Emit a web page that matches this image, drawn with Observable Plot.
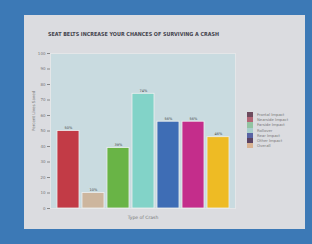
<!DOCTYPE html>
<html><head><meta charset="utf-8">
<script src="https://cdn.jsdelivr.net/npm/d3@7"></script>
<script src="https://cdn.jsdelivr.net/npm/@observablehq/plot@0.6"></script>
<style>
html,body{margin:0;padding:0;}
body{width:312px;height:244px;background:#3c79b6;position:relative;overflow:hidden;font-family:"DejaVu Sans",sans-serif;}
#panel{position:absolute;left:24px;top:15px;width:281px;height:214px;background:#dbdce0;}
#title{position:absolute;left:48px;top:31px;font:bold 5.4px "DejaVu Sans Condensed","DejaVu Sans",sans-serif;color:#45454f;white-space:nowrap;}
#chart{position:absolute;left:0;top:0;}
#legend{position:absolute;left:247px;top:112px;font:3.8px "DejaVu Sans",sans-serif;color:#777;}
#legend .row{display:flex;align-items:center;height:5.2px;}
#legend .sw{width:6px;height:5.2px;margin-right:4px;}
</style></head>
<body>
<div id="panel"></div>
<div id="title"></div>
<div id="chart"></div>
<div id="legend"></div>
<script>
const titleText = "SEAT BELTS INCREASE YOUR CHANCES OF SURVIVING A CRASH";
const categories = ["Frontal Impact","Nearside Impact","Farside Impact","Rollover","Rear Impact","Other Impact","Overall"];
const values = [50, 10, 39, 74, 56, 56, 46];
const barColors = ["#c23b46","#cdb69e","#69b446","#82d3c8","#3e6db5","#c42d8b","#eebb24"];
const legendColors = ["#6e4b5e","#b36575","#93c4a2","#a9cfcc","#5963a4","#5b4262","#d9b393"];
const yTicks = [0,10,20,30,40,50,60,70,80,90,100];
const yLabel = "Percent Lives Saved";
const xLabel = "Type of Crash";

document.getElementById("title").textContent = titleText;

const data = categories.map((c,i)=>({cat:c, value:values[i], color:barColors[i]}));

const chart = Plot.plot({
  width:312, height:244,
  marginLeft:50, marginRight:77, marginTop:53, marginBottom:36,
  style:{background:"transparent", fontFamily:"DejaVu Sans, sans-serif"},
  x:{domain:categories, padding:0.12, paddingOuter:0.2, axis:null},
  y:{domain:[0,100], ticks:yTicks, label:null},
  marks:[
    Plot.frame({fill:"#c9dbe0", stroke:"#e4e6e8"}),
    Plot.axisY({ticks:yTicks, tickSize:3, tickPadding:2, fontSize:4, color:"#777", tickFormat:d=>d, stroke:"#888"}),
    Plot.barY(data,{x:"cat", y:"value", fill:"color", stroke:"#eef0f0", strokeWidth:0.8}),
    Plot.text(data,{x:"cat", y:"value", text:d=>d.value+"%", dy:-3, fontSize:3.5, fill:"#444"}),
    Plot.text([yLabel],{frameAnchor:"left", rotate:-90, dx:-17, fontSize:4, fill:"#777"}),
    Plot.text([xLabel],{frameAnchor:"bottom", dy:10, fontSize:4.5, fill:"#777"})
  ]
});
document.getElementById("chart").appendChild(chart);

const leg = document.getElementById("legend");
categories.forEach((c,i)=>{
  const r = document.createElement("div"); r.className="row";
  const s = document.createElement("div"); s.className="sw"; s.style.background=legendColors[i];
  const t = document.createElement("span"); t.textContent=c;
  r.appendChild(s); r.appendChild(t); leg.appendChild(r);
});
</script>
</body></html>
